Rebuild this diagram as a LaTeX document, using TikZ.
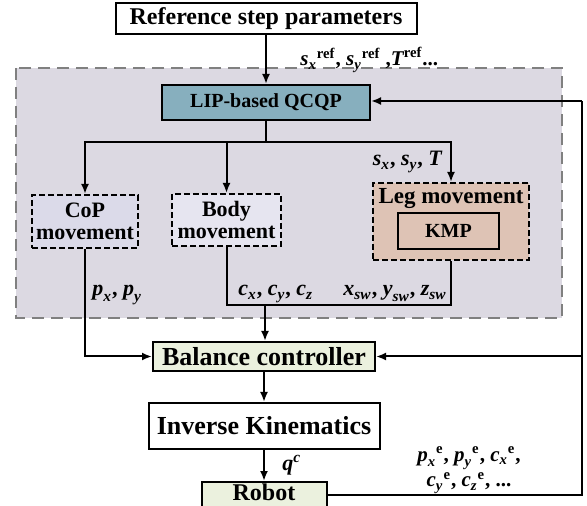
\documentclass[tikz,border=0pt]{standalone}
\usepackage{amsmath}
\usepackage{fontspec}
\setmainfont{Liberation Serif}
\usetikzlibrary{positioning,arrows.meta}

\definecolor{regiongray}{RGB}{220,217,226}
\definecolor{qcqpblue}{RGB}{135,175,190}
\definecolor{movelilac}{RGB}{219,218,233}
\definecolor{legpeach}{RGB}{222,195,181}
\definecolor{balgreen}{RGB}{235,241,222}

\newcommand{\msub}[2]{\ensuremath{\textit{#1}_{\textit{#2}}}}
\newcommand{\msup}[3]{\ensuremath{{\textit{#1}_{\textit{#2}}}^{\text{#3}}}}

\begin{document}
\begin{tikzpicture}[x=0.5pt,y=0.5pt,>={Latex[length=5pt,width=4pt]},
  box/.style={draw, line width=1pt, inner sep=1pt, font=\fontsize{13}{15}\selectfont\bfseries},
  movebox/.style={box, dash pattern=on 3pt off 1.5pt, align=center, font=\fontsize{11}{11}\selectfont\bfseries},
  lbl/.style={inner sep=0pt, font=\fontsize{11}{13}\selectfont\bfseries},
  line/.style={line width=1pt}]

\useasboundingbox (0,0) rectangle (587,-506);

 % Region
\draw[fill=regiongray, draw=gray, line width=1pt, dash pattern=on 6pt off 3.5pt] (16,-68) rectangle (562,-318);

 % Nodes

\node[box, fill=white, minimum width=150.5pt, minimum height=15.5pt, font=\fontsize{12}{14}\selectfont\bfseries] (ref) at (266,-18.5) {Reference step parameters};
\node[box, fill=qcqpblue, minimum width=104pt, minimum height=17.5pt, font=\fontsize{10}{12}\selectfont\bfseries, below=24.5pt of ref] (qcqp) {LIP-based QCQP};

\node[movebox, fill=movelilac, minimum width=53pt, minimum height=26.5pt] (cop) at (85,-221.5) {CoP\\movement};
\node[movebox, fill=movelilac!70!white, minimum width=54.5pt, minimum height=26pt] (body) at (226.5,-220) {Body\\movement};
\node[movebox, fill=legpeach, minimum width=78pt, minimum height=38.5pt] (leg) at (451,-221.5) {};
\node[font=\fontsize{11.5}{12}\selectfont\bfseries, inner sep=0pt] (legtxt) at (451,-199) {Leg movement};
\node[box, fill=legpeach, line width=0.8pt, minimum width=50.5pt, minimum height=18pt, font=\fontsize{10}{12}\selectfont\bfseries] (kmp) at (448.5,-231) {KMP};

\node[box, fill=balgreen, minimum width=111pt, minimum height=14.5pt] (bal) at (264,-356.5) {Balance controller};
\node[box, fill=white, minimum width=115.5pt, minimum height=23pt, below=15pt of bal] (ik) {Inverse Kinematics};
\node[box, fill=balgreen, minimum width=62.5pt, minimum height=12pt, text depth=2.5pt, font=\fontsize{12}{14}\selectfont\bfseries, below=15.5pt of ik] (robot) {Robot};

\node[lbl, anchor=base west, font=\fontsize{10.5}{13}\selectfont\bfseries] (reflbl) at (300,-66) {\msup{s}{x}{ref}, \msup{s}{y}{ref} ,\ensuremath{\textit{T}^{\text{ref}}}...};
\node[lbl, anchor=base east] (slbl) at (443,-166) {\msub{s}{x}, \msub{s}{y}, \textit{T}};
\node[lbl, anchor=base west] (plbl) at (92,-296) {\msub{p}{x}, \msub{p}{y}};
\node[lbl, anchor=base west] (clbl) at (238,-296) {\msub{c}{x}, \msub{c}{y}, \msub{c}{z}};
\node[lbl, anchor=base east] (swlbl) at (447,-296) {\msub{x}{sw}, \msub{y}{sw}, \msub{z}{sw}};
\node[lbl, anchor=base west] (qlbl) at (282,-470) {\ensuremath{\textit{q}^{\textit{c}}}};
\node[lbl, align=center, font=\fontsize{10.5}{11}\selectfont\bfseries] (pelbl) at (469,-470) {\msup{p}{x}{e}, \msup{p}{y}{e}, \msup{c}{x}{e},\\ \msup{c}{y}{e}, \msup{c}{z}{e}, ...};

 % Connect nodes
\coordinate (split) at (266,-142);
\coordinate (merge) at (265,-305);
\coordinate (fb) at (582,-101);

\draw[line,->] (ref) -- (qcqp);
\draw[line] (qcqp) -- (split);
\draw[line,->] (split) -| (cop);
\draw[line,->] (split) -| (leg);
\draw[line,->] (split -| body) -- (body);

\draw[line] (body) |- (merge) -| (leg);
\draw[line,->] (merge) -- (merge |- bal.north);
\draw[line,->] (cop) |- (bal);

\draw[line,->] (bal) -- (ik);
\draw[line,->] (ik) -- (robot);

\draw[line] (robot.east) -| (fb);
\draw[line,->] (fb) -- (fb -| qcqp.east);
\draw[line,->] (fb |- bal) -- (bal);

\end{tikzpicture}
\end{document}
